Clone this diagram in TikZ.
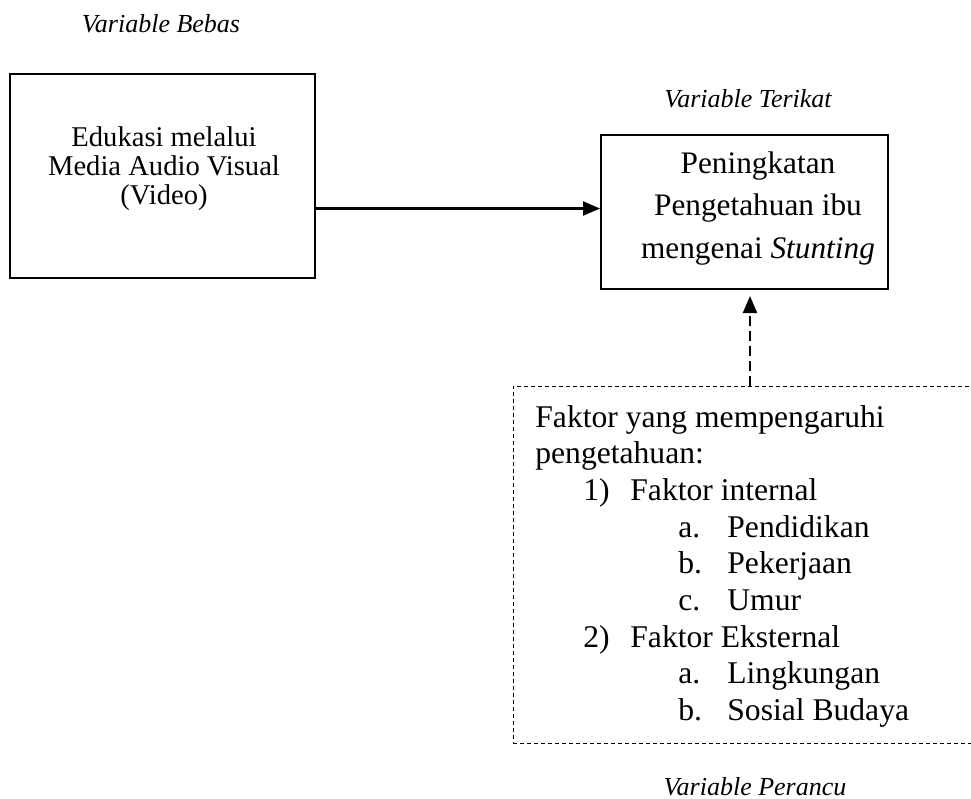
\documentclass[tikz,border=0pt]{standalone}
\usepackage{fontspec}
\setmainfont{Liberation Serif}
\usetikzlibrary{arrows.meta}

\tikzset{
    kotak/.style={draw, line width=1pt, inner sep=0pt},
    isi/.style={align=center, inner sep=0pt},
    judul/.style={font=\fontsize{13}{15}\selectfont\itshape, inner sep=0pt, anchor=base},
    daftar/.style={font=\fontsize{15.8}{18}\selectfont, inner sep=0pt, anchor=base west},
    panah/.style={-{Triangle[length=8.5pt,width=7pt]}, line width=1.2pt},
}

\begin{document}
\begin{tikzpicture}[x=0.5pt,y=-0.5pt]
    \useasboundingbox[fill=white] (0,0) rectangle (971,799);

    % Variable bebas
    \node[judul] (bebas) at (161,32) {Variable Bebas};
    \node[kotak, minimum width=152.5pt, minimum height=102pt] (edukasi) at (162.5,176) {};
    \node[isi, font=\fontsize{14.3}{14.5}\selectfont] (edukasiTeks) at (164,169)
        {Edukasi melalui\\Media Audio Visual\\(Video)};

    % Variable terikat
    \node[judul] (terikat) at (748,107) {Variable Terikat};
    \node[kotak, minimum width=143.5pt, minimum height=77pt] (peningkatan) at (744.5,212) {};
    \node[isi, font=\fontsize{15.65}{21.25}\selectfont] (peningkatanTeks) at (758,208.5)
        {Peningkatan\\Pengetahuan ibu\\mengenai \textit{Stunting}};

    % Variable perancu (kotak putus-putus, sisi kanan keluar gambar)
    \node[draw, line width=0.5pt, dash pattern=on 2pt off 1.5pt, inner sep=0pt,
          minimum width=233pt, minimum height=178.5pt] (perancu) at (746,564.5) {};
    \foreach \i/\xa/\teks [count=\n] in {0/535/Faktor yang mempengaruhi, 1/535/pengetahuan:,
            2/583/1), 2/630/Faktor internal, 3/678/a., 3/727/Pendidikan,
            4/678/b., 4/727/Pekerjaan, 5/678/c., 5/727/Umur,
            6/583/2), 6/630/Faktor Eksternal, 7/678/a., 7/727/Lingkungan,
            8/678/b., 8/727/Sosial Budaya} {
        \node[daftar] (faktor\n) at (\xa,427+36.7*\i) {\teks};
    }
    \node[judul] (perancuJudul) at (755,795) {Variable Perancu};

    % Hubungan antar variabel
    \coordinate (lajur) at (750,0);
    \draw[panah] (edukasi.east |- peningkatanTeks) -- (peningkatan.west |- peningkatanTeks);
    \draw[panah, line width=1pt, dash pattern=on 5pt off 2.5pt]
        (perancu.north -| lajur) -- ([yshift=-3pt]peningkatan.south -| lajur);
\end{tikzpicture}
\end{document}
